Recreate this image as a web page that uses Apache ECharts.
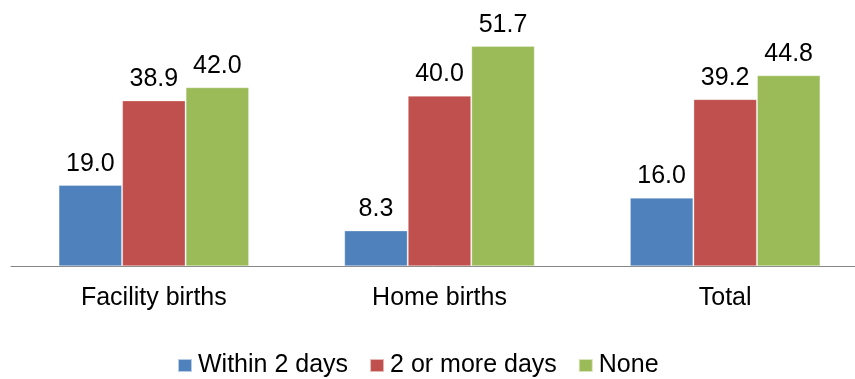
<!DOCTYPE html>
<html>
<head>
<meta charset="utf-8">
<script src="https://cdn.jsdelivr.net/npm/echarts@6/dist/echarts.min.js"></script>
<style>
  html, body { margin: 0; padding: 0; background: #fff; }
  #chart { width: 855px; height: 379px; }
</style>
</head>
<body>
<div id="chart"></div>
<script>
// Timing of postnatal check by place of birth (%)
const categories = ['Facility births', 'Home births', 'Total'];
const seriesNames = ['Within 2 days', '2 or more days', 'None'];
const within2Days = [19.0, 8.3, 16.0];
const twoOrMoreDays = [38.9, 40.0, 39.2];
const none = [42.0, 51.7, 44.8];
const colors = ['#4F81BD', '#C0504D', '#9BBB59'];

const values = [within2Days, twoOrMoreDays, none];
const font = '"Liberation Sans", Arial, sans-serif';

const chart = echarts.init(document.getElementById('chart'), null, { renderer: 'canvas' });
chart.setOption({
  animation: false,
  textStyle: { fontFamily: font },
  // plot area runs a little past the right edge so the last group sits where it should
  grid: { left: 11, width: 857, top: 11, height: 255, containLabel: false, outerBoundsMode: 'none' },
  legend: {
    top: 348,
    left: 172,
    itemWidth: 14,
    itemHeight: 13,
    itemGap: 21,
    icon: 'rect',
    textStyle: { fontSize: 25, color: '#000', fontFamily: font, padding: [0, 0, 0, 1] },
    data: seriesNames
  },
  xAxis: {
    type: 'category',
    data: categories,
    axisLine: { lineStyle: { color: '#868686', width: 1 } },
    axisTick: { show: false },
    axisLabel: { fontSize: 25, color: '#000', margin: 20, fontFamily: font }
  },
  yAxis: {
    type: 'value',
    min: 0,
    max: 60,
    show: false,
    splitLine: { show: false }
  },
  series: seriesNames.map((name, i) => ({
    name,
    type: 'bar',
    data: values[i],
    barGap: '1%',
    barCategoryGap: '33.5%',
    itemStyle: { color: colors[i], borderColor: 'rgba(255,255,255,0.6)', borderWidth: 0.5 },
    label: {
      show: true,
      position: 'top',
      distance: 9,
      fontSize: 25,
      color: '#000',
      fontFamily: font,
      formatter: p => p.value.toFixed(1)
    }
  }))
});
</script>
</body>
</html>
